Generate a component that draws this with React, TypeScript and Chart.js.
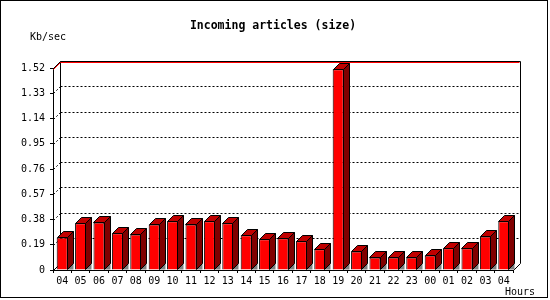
import React, { useEffect, useRef } from "react";
import { Chart, registerables } from "chart.js";

Chart.register(...registerables);

const hours = ["04","05","06","07","08","09","10","11","12","13","14","15","16","17","18","19","20","21","22","23","00","01","02","03","04"];
const kbPerSec = [0.245,0.351,0.358,0.276,0.268,0.343,0.366,0.343,0.366,0.351,0.261,0.231,0.238,0.216,0.156,1.51,0.140,0.095,0.095,0.095,0.110,0.163,0.163,0.253,0.366];
const yTickValues = [0,0.19,0.38,0.57,0.76,0.95,1.14,1.33,1.52];
const yTickLabels = ["0","0.19","0.38","0.57","0.76","0.95","1.14","1.33","1.52"];
const titleText = "Incoming articles (size)";
const yAxisTitle = "Kb/sec";
const xAxisTitle = "Hours";

const MONO = "'DejaVu Sans Mono', monospace";
const PLANE_D = 7;
const BAR_D = 6;

const px = (v: number) => Math.round(v) + 0.5;

const threeD = {
  id: "threeD",
  beforeDatasetsDraw(chart: any) {
    const { ctx, chartArea: ca } = chart;
    const ys = chart.scales.y;
    ctx.save();
    ctx.lineWidth = 1;
    // outer frame
    ctx.strokeStyle = "#000";
    ctx.strokeRect(0.5, 0.5, 547, 297);
    const bl = px(ca.left + PLANE_D);
    const br = px(ca.right + PLANE_D);
    const bt = px(ca.top - PLANE_D);
    const bb = px(ca.bottom - PLANE_D);
    // grid lines on back plane
    ctx.setLineDash([2, 2]);
    ctx.strokeStyle = "#000";
    yTickValues.forEach((v, i) => {
      if (i === 0 || i === yTickValues.length - 1) return;
      const yf = ys.getPixelForValue(v);
      const y = px(yf - PLANE_D);
      ctx.beginPath();
      ctx.moveTo(bl, y);
      ctx.lineTo(br, y);
      ctx.stroke();
      ctx.beginPath();
      ctx.moveTo(px(ca.left), px(yf));
      ctx.lineTo(bl, y);
      ctx.stroke();
    });
    ctx.setLineDash([]);
    // back plane frame
    ctx.beginPath();
    ctx.moveTo(bl, bb);
    ctx.lineTo(bl, bt);
    ctx.lineTo(br, bt);
    ctx.lineTo(br, bb);
    ctx.lineTo(px(ca.right), px(ca.bottom));
    ctx.moveTo(px(ca.left), px(ca.top));
    ctx.lineTo(bl, bt);
    ctx.moveTo(px(ca.left), px(ca.bottom));
    ctx.lineTo(bl, bb);
    ctx.stroke();
    // red max line
    ctx.strokeStyle = "#ff0000";
    ctx.beginPath();
    ctx.moveTo(px(ca.left), px(ca.top) + 1);
    ctx.lineTo(bl, bt + 1);
    ctx.lineTo(br - 1, bt + 1);
    ctx.stroke();
    ctx.restore();
  },
  afterDatasetsDraw(chart: any) {
    const { ctx } = chart;
    const meta = chart.getDatasetMeta(0);
    ctx.save();
    ctx.lineWidth = 1;
    ctx.strokeStyle = "#000";
    meta.data.forEach((bar: any) => {
      const L = Math.round(bar.x - bar.width / 2) + 0.5;
      const R = Math.round(bar.x + bar.width / 2) - 0.5;
      const T = Math.round(bar.y) + 0.5;
      const B = Math.round(bar.base) - 0.5;
      // floor shadow
      ctx.fillStyle = "#808080";
      ctx.beginPath();
      ctx.moveTo(R, B);
      ctx.lineTo(R + BAR_D, B - BAR_D);
      ctx.lineTo(R + BAR_D, B);
      ctx.closePath();
      ctx.fill();
      // side face
      ctx.fillStyle = "#800000";
      ctx.beginPath();
      ctx.moveTo(R, T);
      ctx.lineTo(R + BAR_D, T - BAR_D);
      ctx.lineTo(R + BAR_D, B - BAR_D);
      ctx.lineTo(R, B);
      ctx.closePath();
      ctx.fill();
      ctx.stroke();
      // top face
      ctx.fillStyle = "#c00000";
      ctx.beginPath();
      ctx.moveTo(L, T);
      ctx.lineTo(L + BAR_D, T - BAR_D);
      ctx.lineTo(R + BAR_D, T - BAR_D);
      ctx.lineTo(R, T);
      ctx.closePath();
      ctx.fill();
      ctx.stroke();
    });
    ctx.restore();
  },
  afterDraw(chart: any) {
    const { ctx } = chart;
    ctx.save();
    ctx.fillStyle = "#000";
    ctx.textBaseline = "middle";
    ctx.font = `bold 11.5px ${MONO}`;
    ctx.textAlign = "center";
    ctx.fillText(titleText, 273, 26);
    ctx.font = `10px ${MONO}`;
    ctx.textAlign = "left";
    ctx.fillText(yAxisTitle, 30, 37);
    ctx.textAlign = "right";
    ctx.fillText(xAxisTitle, 535, 292);
    ctx.restore();
  },
};

export default function App() {
  const ref = useRef<HTMLCanvasElement | null>(null);
  useEffect(() => {
    if (!ref.current) return;
    const chart = new Chart(ref.current, {
      type: "bar",
      data: {
        labels: hours,
        datasets: [
          {
            data: kbPerSec,
            backgroundColor: "#ff0000",
            borderColor: "#000000",
            borderWidth: 1,
            barPercentage: 0.6,
            categoryPercentage: 1,
          },
        ],
      },
      options: {
        responsive: false,
        animation: false,
        devicePixelRatio: 1,
        layout: { padding: { top: 68, right: 37, bottom: 0, left: 0 } },
        plugins: { legend: { display: false }, tooltip: { enabled: false }, title: { display: false } },
        scales: {
          x: {
            offset: true,
            afterFit: (s: any) => { s.height = 30; },
            grid: { offset: true, drawOnChartArea: false, drawTicks: true, tickLength: 3, color: "#000" },
            border: { display: true, color: "#000" },
            ticks: { autoSkip: false, maxRotation: 0, padding: 2, color: "#000", font: { family: MONO, size: 10 } },
          },
          y: {
            min: 0,
            max: 1.52,
            afterBuildTicks: (s: any) => { s.ticks = yTickValues.map((v) => ({ value: v })); },
            afterFit: (s: any) => { s.width = 53; },
            grid: { drawOnChartArea: false, drawTicks: true, tickLength: 3, color: "#000" },
            border: { display: true, color: "#000" },
            ticks: {
              padding: 5,
              color: "#000",
              font: { family: MONO, size: 10 },
              callback: (_v: any, i: number) => yTickLabels[i],
            },
          },
        },
      },
      plugins: [threeD],
    });
    return () => chart.destroy();
  }, []);
  return (
    <div style={{ position: "fixed", left: 0, top: 0, width: 550, height: 300, background: "#fff" }}>
      <canvas ref={ref} width={550} height={300} />
    </div>
  );
}
